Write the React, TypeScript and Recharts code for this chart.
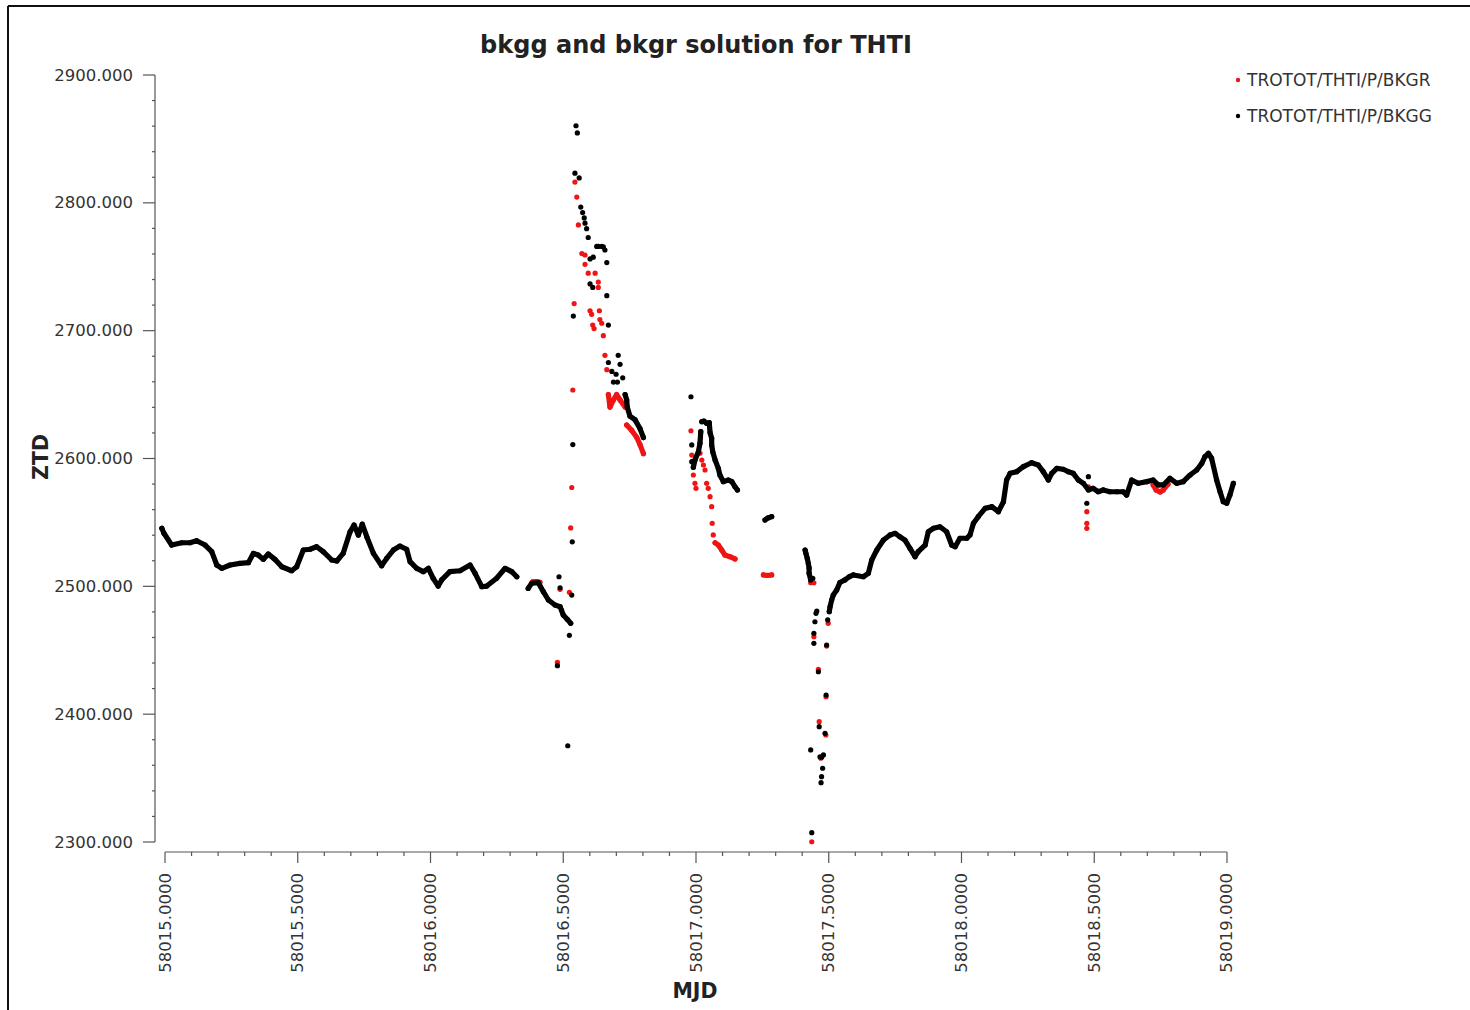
import React from "react";
import { ScatterChart, Scatter, XAxis, YAxis } from "recharts";

type Pt = [number, number];

// [MJD, ZTD] pairs. "trace" arrays are dense runs drawn as a joined chain of dots,
// "dots" arrays are scattered single epochs.

// ---- TROTOT/THTI/P/BKGG (black) ----
const bkggTrace1: Pt[] = [
  [58014.988, 2545.4], [58014.996, 2541.5], [58015.025, 2532.3], [58015.063, 2534.1],
  [58015.094, 2534.1], [58015.119, 2535.7], [58015.151, 2532.3], [58015.176, 2527.1],
  [58015.195, 2516.7], [58015.214, 2514.1], [58015.245, 2516.7], [58015.282, 2518.0],
  [58015.314, 2518.5], [58015.333, 2525.8], [58015.351, 2524.5], [58015.370, 2521.1],
  [58015.389, 2525.3], [58015.414, 2521.1], [58015.440, 2515.3], [58015.477, 2512.2],
  [58015.496, 2515.3], [58015.521, 2528.4], [58015.546, 2529.0], [58015.571, 2531.0],
  [58015.596, 2527.1], [58015.628, 2520.6], [58015.647, 2519.8], [58015.671, 2525.8],
  [58015.697, 2542.7], [58015.712, 2548.0], [58015.728, 2540.1], [58015.743, 2548.7],
  [58015.760, 2538.8], [58015.785, 2525.8], [58015.816, 2516.1], [58015.835, 2521.9],
  [58015.860, 2528.4], [58015.885, 2531.5], [58015.910, 2529.0], [58015.923, 2519.3],
  [58015.948, 2514.1], [58015.973, 2511.5], [58015.992, 2514.1], [58016.010, 2506.3],
  [58016.029, 2500.2], [58016.042, 2505.0], [58016.073, 2511.5], [58016.111, 2512.2],
  [58016.149, 2516.7], [58016.168, 2510.2], [58016.193, 2499.7], [58016.212, 2500.2],
  [58016.249, 2506.3], [58016.281, 2514.1], [58016.306, 2511.5], [58016.325, 2507.5],
];

const bkggTrace2: Pt[] = [
  [58016.368, 2498.4], [58016.381, 2502.4], [58016.406, 2502.9], [58016.425, 2495.8],
  [58016.444, 2489.3], [58016.469, 2485.4], [58016.488, 2484.1], [58016.500, 2477.6],
  [58016.515, 2474.2], [58016.528, 2471.1],
];

const bkggSpikeTail: Pt[] = [
  [58016.733, 2650.0], [58016.739, 2645.8], [58016.741, 2640.2], [58016.751, 2633.2],
  [58016.770, 2630.4], [58016.789, 2623.4], [58016.802, 2616.4],
];

const bkggShortRun: Pt[] = [
  [58016.990, 2593.1], [58016.996, 2598.8], [58017.009, 2605.3], [58017.015, 2611.9],
  [58017.018, 2621.0],
];

const bkggTrace3: Pt[] = [
  [58017.022, 2628.8], [58017.030, 2629.3], [58017.040, 2627.5], [58017.050, 2628.0],
  [58017.053, 2620.2], [58017.059, 2615.8], [58017.059, 2610.6], [58017.063, 2605.3],
  [58017.072, 2598.8], [58017.084, 2592.3], [58017.090, 2587.1], [58017.103, 2581.9],
  [58017.122, 2583.2], [58017.135, 2581.9], [58017.147, 2577.9], [58017.156, 2575.4],
];

const bkggStub: Pt[] = [[58017.260, 2551.9], [58017.271, 2553.5], [58017.285, 2554.5]];

const bkggDropRun: Pt[] = [
  [58017.411, 2528.4], [58017.414, 2525.8], [58017.419, 2521.9], [58017.423, 2518.0],
  [58017.426, 2514.3], [58017.426, 2510.2], [58017.432, 2505.0],
];

const bkggTrace4: Pt[] = [
  [58017.502, 2480.2], [58017.505, 2484.1], [58017.511, 2489.3], [58017.517, 2493.2],
  [58017.530, 2497.1], [58017.542, 2503.0], [58017.561, 2505.0], [58017.577, 2507.5],
  [58017.593, 2508.9], [58017.630, 2507.5], [58017.649, 2510.2], [58017.662, 2520.6],
  [58017.681, 2528.4], [58017.706, 2536.2], [58017.731, 2540.2], [58017.750, 2541.5],
  [58017.768, 2538.8], [58017.787, 2536.2], [58017.806, 2529.7], [58017.825, 2523.2],
  [58017.837, 2527.1], [58017.863, 2532.3], [58017.875, 2542.7], [58017.894, 2545.4],
  [58017.919, 2546.6], [58017.944, 2542.7], [58017.963, 2532.3], [58017.976, 2531.0],
  [58017.994, 2537.6], [58018.020, 2537.6], [58018.032, 2540.2], [58018.045, 2549.3],
  [58018.063, 2554.5], [58018.089, 2561.0], [58018.114, 2562.3], [58018.139, 2558.4],
  [58018.158, 2566.2], [58018.170, 2583.2], [58018.183, 2588.4], [58018.208, 2589.7],
  [58018.233, 2593.6], [58018.264, 2596.7], [58018.289, 2594.9], [58018.308, 2589.7],
  [58018.327, 2583.2], [58018.340, 2588.4], [58018.359, 2592.3], [58018.383, 2591.6],
  [58018.402, 2589.7], [58018.421, 2588.4], [58018.440, 2583.2], [58018.459, 2580.6],
  [58018.478, 2575.4], [58018.496, 2576.7], [58018.515, 2574.0], [58018.534, 2575.4],
  [58018.559, 2574.0], [58018.585, 2574.0], [58018.609, 2574.0], [58018.622, 2571.4],
  [58018.641, 2583.2], [58018.666, 2580.6], [58018.698, 2581.9], [58018.722, 2583.2],
  [58018.741, 2579.3], [58018.760, 2579.3], [58018.785, 2584.5], [58018.811, 2580.6],
  [58018.835, 2581.9], [58018.861, 2587.1], [58018.886, 2591.0], [58018.905, 2596.2],
  [58018.917, 2601.4], [58018.930, 2604.1], [58018.942, 2600.2], [58018.961, 2583.2],
  [58018.974, 2574.0], [58018.986, 2566.2], [58018.999, 2565.0], [58019.011, 2571.4],
  [58019.024, 2580.6],
];

const bkggDots: Pt[] = [
  [58016.484, 2507.5], [58016.488, 2498.9], [58016.532, 2493.2], [58016.523, 2461.7],
  [58016.478, 2437.9], [58016.517, 2375.3], [58016.534, 2534.8], [58016.536, 2610.9],
  [58016.538, 2711.4],
  [58016.548, 2860.3], [58016.553, 2854.7], [58016.544, 2823.2], [58016.560, 2819.5],
  [58016.566, 2796.7], [58016.573, 2792.4], [58016.579, 2788.2], [58016.582, 2784.1],
  [58016.588, 2779.8], [58016.594, 2772.9], [58016.626, 2765.9], [58016.632, 2765.9],
  [58016.645, 2765.9], [58016.651, 2765.5], [58016.657, 2763.1], [58016.613, 2757.5],
  [58016.601, 2756.1], [58016.664, 2753.3], [58016.601, 2736.6], [58016.611, 2733.8],
  [58016.664, 2727.4], [58016.670, 2704.4], [58016.707, 2680.7], [58016.670, 2675.1],
  [58016.714, 2673.7], [58016.683, 2668.1], [58016.699, 2665.9], [58016.724, 2663.1],
  [58016.689, 2659.8], [58016.704, 2659.8],
  [58016.981, 2648.3], [58016.984, 2610.6], [58016.984, 2597.5],
  [58017.440, 2506.3], [58017.455, 2480.7], [58017.452, 2478.9], [58017.448, 2472.3],
  [58017.444, 2463.3], [58017.444, 2455.4], [58017.461, 2433.2], [58017.464, 2390.2],
  [58017.432, 2372.0], [58017.467, 2366.7], [58017.473, 2366.3], [58017.480, 2368.1],
  [58017.477, 2357.7], [58017.473, 2351.1], [58017.471, 2346.4], [58017.436, 2307.3],
  [58017.486, 2385.0], [58017.490, 2415.0], [58017.492, 2454.1], [58017.496, 2473.7],
  [58018.478, 2585.8], [58018.472, 2565.0],
];

// ---- TROTOT/THTI/P/BKGR (red) ----
const bkgrStep: Pt[] = [[58016.385, 2503.5], [58016.400, 2503.8], [58016.412, 2503.2]];

const bkgrChevron: Pt[] = [
  [58016.670, 2650.0], [58016.676, 2640.2], [58016.689, 2645.8], [58016.701, 2650.0],
  [58016.714, 2645.8], [58016.733, 2640.2],
];

const bkgrSpikeTail: Pt[] = [
  [58016.739, 2626.2], [58016.758, 2622.0], [58016.777, 2616.4], [58016.789, 2610.9],
  [58016.802, 2603.8],
];

const bkgrTrace3: Pt[] = [
  [58017.072, 2534.1], [58017.084, 2532.3], [58017.097, 2528.4], [58017.109, 2524.5],
  [58017.128, 2523.2], [58017.147, 2521.4],
];

const bkgrStub: Pt[] = [[58017.254, 2508.9], [58017.269, 2508.5], [58017.285, 2508.9]];

const bkgrDip: Pt[] = [
  [58018.722, 2579.3], [58018.733, 2575.4], [58018.748, 2573.8], [58018.760, 2575.4],
  [58018.778, 2580.0],
];

const bkgrDots: Pt[] = [
  [58016.488, 2497.7], [58016.523, 2495.3], [58016.478, 2440.6], [58016.494, 2481.5],
  [58016.532, 2577.3], [58016.528, 2545.7], [58016.536, 2653.6], [58016.541, 2721.2],
  [58016.544, 2816.2], [58016.551, 2804.5], [58016.557, 2782.7], [58016.570, 2760.3],
  [58016.582, 2759.2], [58016.582, 2751.9], [58016.594, 2745.0], [58016.620, 2745.0],
  [58016.632, 2738.0], [58016.632, 2733.8], [58016.601, 2715.6], [58016.607, 2712.8],
  [58016.636, 2715.6], [58016.638, 2708.7], [58016.645, 2705.8], [58016.611, 2704.4],
  [58016.616, 2701.6], [58016.651, 2696.1], [58016.657, 2680.7], [58016.664, 2669.5],
  [58016.981, 2621.7], [58016.984, 2602.7], [58016.988, 2597.5], [58016.990, 2587.1],
  [58016.996, 2580.6], [58017.000, 2576.7], [58017.015, 2604.1], [58017.022, 2598.8],
  [58017.028, 2594.9], [58017.034, 2591.0], [58017.040, 2580.6], [58017.046, 2576.7],
  [58017.053, 2570.1], [58017.059, 2562.3], [58017.061, 2549.3], [58017.065, 2540.2],
  [58017.432, 2502.8], [58017.444, 2502.8], [58017.444, 2460.6], [58017.461, 2435.1],
  [58017.464, 2394.1], [58017.470, 2365.5], [58017.436, 2300.2], [58017.489, 2383.7],
  [58017.490, 2413.7], [58017.492, 2453.3], [58017.498, 2471.1],
  [58018.478, 2577.9], [58018.472, 2558.4], [58018.472, 2549.3], [58018.472, 2545.4],
];

const bkggTraces = [bkggTrace1, bkggTrace2, bkggSpikeTail, bkggShortRun, bkggTrace3, bkggStub, bkggDropRun, bkggTrace4];
const bkgrTraces = [bkgrStep, bkgrChevron, bkgrSpikeTail, bkgrTrace3, bkgrStub, bkgrDip];

const xTicks = [
  58015.0, 58015.1, 58015.2, 58015.3, 58015.4, 58015.5, 58015.6, 58015.7, 58015.8, 58015.9,
  58016.0, 58016.1, 58016.2, 58016.3, 58016.4, 58016.5, 58016.6, 58016.7, 58016.8, 58016.9,
  58017.0, 58017.1, 58017.2, 58017.3, 58017.4, 58017.5, 58017.6, 58017.7, 58017.8, 58017.9,
  58018.0, 58018.1, 58018.2, 58018.3, 58018.4, 58018.5, 58018.6, 58018.7, 58018.8, 58018.9,
  58019.0,
];
const yTicks = [
  2300, 2320, 2340, 2360, 2380, 2400, 2420, 2440, 2460, 2480, 2500, 2520, 2540, 2560, 2580,
  2600, 2620, 2640, 2660, 2680, 2700, 2720, 2740, 2760, 2780, 2800, 2820, 2840, 2860, 2880, 2900,
];

// axis ranges include a small margin beyond the first/last tick (axes are drawn offset)
const xDomain = [58014.9623, 58019.0377];
const yDomain = [2292.18, 2900];

const seriesNames = ["TROTOT/THTI/P/BKGR", "TROTOT/THTI/P/BKGG"];

const FONT = "'DejaVu Sans', Verdana, sans-serif";
const INK = "#333333";
const AXIS = "#555555";
const RED = "#f01414";
const BLACK = "#000000";
const seriesColors = [RED, BLACK];

const toRows = (pts: Pt[]) => pts.map(([x, y]) => ({ x, y }));
const onStep = (v: number, step: number) => Math.abs(v / step - Math.round(v / step)) < 1e-6;

const dot = (fill: string) => (p: any) => <circle cx={p.cx} cy={p.cy} r={2.6} fill={fill} />;
const chain = (color: string) => ({
  stroke: color,
  strokeWidth: 5.2,
  strokeLinecap: "round" as const,
  strokeLinejoin: "round" as const,
});

function XTick(props: any) {
  const { x, y, payload } = props;
  const major = onStep(payload.value, 0.5);
  const ty = y + 21;
  return (
    <g>
      <line x1={x} y1={y} x2={x} y2={y + (major ? 11 : 4)} stroke={AXIS} strokeWidth={1.2} />
      {major && (
        <text
          x={x}
          y={ty}
          transform={`rotate(-90, ${x}, ${ty})`}
          textAnchor="end"
          dominantBaseline="central"
          fontFamily={FONT}
          fontSize={16.5}
          fill={INK}
        >
          {payload.value.toFixed(4)}
        </text>
      )}
    </g>
  );
}

function YTick(props: any) {
  const { x, y, payload } = props;
  const major = onStep(payload.value, 100);
  return (
    <g>
      <line x1={x - (major ? 12 : 3)} y1={y} x2={x} y2={y} stroke={AXIS} strokeWidth={1.2} />
      {major && (
        <text
          x={x - 22}
          y={y}
          textAnchor="end"
          dominantBaseline="central"
          fontFamily={FONT}
          fontSize={16.5}
          fill={INK}
        >
          {payload.value.toFixed(3)}
        </text>
      )}
    </g>
  );
}

export default function App() {
  return (
    <div style={{ position: "absolute", left: 0, top: 0, width: 1470, height: 1010, background: "#fff" }}>
      <ScatterChart width={1470} height={1010} margin={{ top: 75, right: 233, bottom: 28, left: 55 }}>
        <XAxis
          type="number"
          dataKey="x"
          domain={xDomain}
          allowDataOverflow
          ticks={xTicks}
          interval={0}
          height={130}
          tickSize={0}
          tickMargin={0}
          tickLine={false}
          axisLine={{ stroke: AXIS, strokeWidth: 1.2, strokeDasharray: "0 10 1062 100" }}
          tick={<XTick />}
        />
        <YAxis
          type="number"
          dataKey="y"
          domain={yDomain}
          allowDataOverflow
          ticks={yTicks}
          interval={0}
          width={100}
          tickSize={0}
          tickMargin={0}
          tickLine={false}
          axisLine={{ stroke: AXIS, strokeWidth: 1.2, strokeDasharray: "767 100" }}
          tick={<YTick />}
        />
        {bkgrTraces.map((t, i) => (
          <Scatter
            key={`r-line-${i}`}
            name={seriesNames[0]}
            data={toRows(t)}
            fill={RED}
            line={chain(RED)}
            lineType="joint"
            shape={dot(RED)}
            isAnimationActive={false}
          />
        ))}
        <Scatter name={seriesNames[0]} data={toRows(bkgrDots)} fill={RED} shape={dot(RED)} isAnimationActive={false} />
        {bkggTraces.map((t, i) => (
          <Scatter
            key={`k-line-${i}`}
            name={seriesNames[1]}
            data={toRows(t)}
            fill={BLACK}
            line={chain(BLACK)}
            lineType="joint"
            shape={dot(BLACK)}
            isAnimationActive={false}
          />
        ))}
        <Scatter name={seriesNames[1]} data={toRows(bkggDots)} fill={BLACK} shape={dot(BLACK)} isAnimationActive={false} />
      </ScatterChart>

      <svg
        width={1470}
        height={1010}
        style={{ position: "absolute", left: 0, top: 0, pointerEvents: "none" }}
      >
        <line x1={8} y1={6} x2={1470} y2={6} stroke="#111" strokeWidth={2} />
        <line x1={8} y1={6} x2={8} y2={1010} stroke="#111" strokeWidth={2} />
        <text x={696} y={53} textAnchor="middle" fontFamily={FONT} fontWeight="bold" fontSize={24} fill="#222">
          bkgg and bkgr solution for THTI
        </text>
        <text
          x={48}
          y={457}
          transform="rotate(-90, 48, 457)"
          textAnchor="middle"
          fontFamily={FONT}
          fontWeight="bold"
          fontSize={20.5}
          fill="#222"
        >
          ZTD
        </text>
        <text x={695} y={998} textAnchor="middle" fontFamily={FONT} fontWeight="bold" fontSize={20.5} fill="#222">
          MJD
        </text>
        {seriesNames.map((name, i) => (
          <g key={name}>
            <circle cx={1238} cy={80 + i * 36} r={2.2} fill={seriesColors[i]} />
            <text
              x={1247}
              y={80 + i * 36}
              dominantBaseline="central"
              fontFamily={FONT}
              fontSize={17}
              fill={INK}
            >
              {name}
            </text>
          </g>
        ))}
      </svg>
    </div>
  );
}
